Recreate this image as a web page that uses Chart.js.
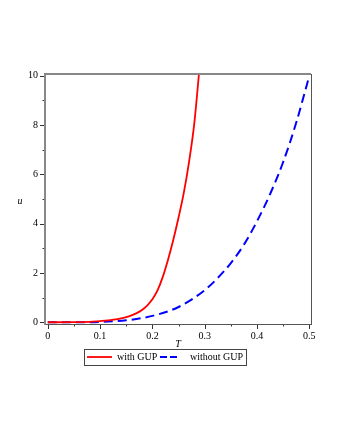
<!DOCTYPE html>
<html>
<head>
<meta charset="utf-8">
<script src="https://cdn.jsdelivr.net/npm/chart.js@4/dist/chart.umd.min.js"></script>
<style>
  html, body { margin: 0; padding: 0; background: #fff; }
  canvas { display: block; }
</style>
</head>
<body>
<canvas id="chart" width="340" height="440"></canvas>
<script>
// values
const tWithGUP = [0, 0.05, 0.08, 0.1, 0.11, 0.12, 0.13, 0.14, 0.15, 0.16, 0.17, 0.18, 0.19, 0.2, 0.21, 0.22, 0.23, 0.24, 0.25, 0.26, 0.27, 0.28, 0.29];
const uWithGUP = [0, 0.004, 0.02, 0.05, 0.065, 0.085, 0.115, 0.16, 0.21, 0.28, 0.37, 0.5, 0.68, 0.93, 1.3, 1.85, 2.55, 3.35, 4.25, 5.25, 6.5, 8.05, 10.3];

const tWithoutGUP = [0, 0.05, 0.1, 0.15, 0.2, 0.25, 0.3, 0.325, 0.35, 0.375, 0.4, 0.425, 0.45, 0.475, 0.5];
const uWithoutGUP = [0, 0.001, 0.016, 0.08, 0.26, 0.62, 1.3, 1.8, 2.4, 3.15, 4.1, 5.2, 6.5, 8.1, 10.0];

const seriesLabels = ['with GUP', 'without GUP'];
const xTitle = 'T';
const yTitle = 'u';

const SERIF = "'Liberation Serif', 'DejaVu Serif', serif";

const toPoints = (xs, ys) => xs.map((x, i) => ({ x, y: ys[i] }));

// tick marks (major + minor), frame, axis titles and legend, Maple style
const mapleDecor = {
  id: 'maple-decor',
  afterDraw(chart) {
    const { ctx, chartArea: a, scales: { x, y } } = chart;
    ctx.save();

    ctx.strokeStyle = '#333';
    ctx.lineWidth = 1;
    const tickLines = (scale, horizontal) => {
      const vals = scale.ticks.map((t) => t.value);
      const step = vals[1] - vals[0];
      vals.forEach((v) => {
        [[v, 5], [v + step / 2, 2.5]].forEach(([val, len]) => {
          if (val > scale.max) return;
          const p = Math.round(scale.getPixelForValue(val)) + 0.5;
          ctx.beginPath();
          if (horizontal) {
            ctx.moveTo(p, a.bottom);
            ctx.lineTo(p, a.bottom + len);
          } else {
            ctx.moveTo(a.left - len, p);
            ctx.lineTo(a.left, p);
          }
          ctx.stroke();
        });
      });
    };
    tickLines(x, true);
    tickLines(y, false);

    ctx.strokeStyle = '#555';
    ctx.strokeRect(a.left + 0.5, a.top + 0.5, a.right - a.left, a.bottom - a.top);
    ctx.strokeStyle = '#888';
    ctx.lineWidth = 2;
    ctx.beginPath();
    ctx.moveTo(a.left, a.bottom + 1);
    ctx.lineTo(a.left, a.top);
    ctx.lineTo(a.right, a.top);
    ctx.stroke();

    ctx.fillStyle = '#000';
    ctx.font = 'italic 10px ' + SERIF;
    ctx.textAlign = 'center';
    ctx.textBaseline = 'middle';
    ctx.fillText(yTitle, 20, 201);
    ctx.fillText(xTitle, 178, 344);

    // legend
    const lx = 84, ly = 349, lw = 162, lh = 16, cy = ly + lh / 2;
    ctx.lineWidth = 1;
    ctx.strokeStyle = '#444';
    ctx.strokeRect(lx + 0.5, ly + 0.5, lw, lh);
    ctx.lineWidth = 1.8;
    ctx.strokeStyle = '#ff0000';
    ctx.beginPath();
    ctx.moveTo(87, cy);
    ctx.lineTo(112, cy);
    ctx.stroke();
    ctx.strokeStyle = '#0000ff';
    ctx.setLineDash([7, 3]);
    ctx.beginPath();
    ctx.moveTo(160, cy);
    ctx.lineTo(177, cy);
    ctx.stroke();
    ctx.setLineDash([]);
    ctx.font = '10px ' + SERIF;
    ctx.textAlign = 'left';
    ctx.fillText(seriesLabels[0], 117, cy + 0.5);
    ctx.fillText(seriesLabels[1], 190, cy + 0.5);

    ctx.restore();
  },
};

new Chart(document.getElementById('chart'), {
  type: 'line',
  data: {
    datasets: [
      {
        label: seriesLabels[0],
        data: toPoints(tWithGUP, uWithGUP),
        borderColor: '#ff0000',
        borderWidth: 1.8,
        pointRadius: 0,
        cubicInterpolationMode: 'monotone',
        clip: 0,
      },
      {
        label: seriesLabels[1],
        data: toPoints(tWithoutGUP, uWithoutGUP),
        borderColor: '#0000ff',
        borderWidth: 2,
        borderDash: [9, 5],
        pointRadius: 0,
        cubicInterpolationMode: 'monotone',
        clip: 0,
      },
    ],
  },
  options: {
    responsive: false,
    animation: false,
    events: [],
    layout: { padding: { left: 0, top: 74, right: 29, bottom: 96 } },
    plugins: {
      legend: { display: false },
      tooltip: { enabled: false },
    },
    scales: {
      x: {
        type: 'linear',
        min: -0.0053,
        max: 0.5032,
        grid: { display: false, drawTicks: false },
        border: { display: false },
        ticks: {
          stepSize: 0.1,
          includeBounds: false,
          maxRotation: 0,
          padding: 6,
          color: '#000',
          font: { family: SERIF, size: 10 },
          callback: (v) => String(v),
        },
        afterFit(scale) {
          scale.height = 20;
        },
      },
      y: {
        type: 'linear',
        min: -0.07,
        max: 10.07,
        grid: { display: false, drawTicks: false },
        border: { display: false },
        ticks: {
          stepSize: 2,
          includeBounds: false,
          padding: 7,
          color: '#000',
          font: { family: SERIF, size: 10 },
          callback: (v) => String(v),
        },
        afterFit(scale) {
          scale.width = 45;
        },
      },
    },
  },
  plugins: [mapleDecor],
});
</script>
</body>
</html>
